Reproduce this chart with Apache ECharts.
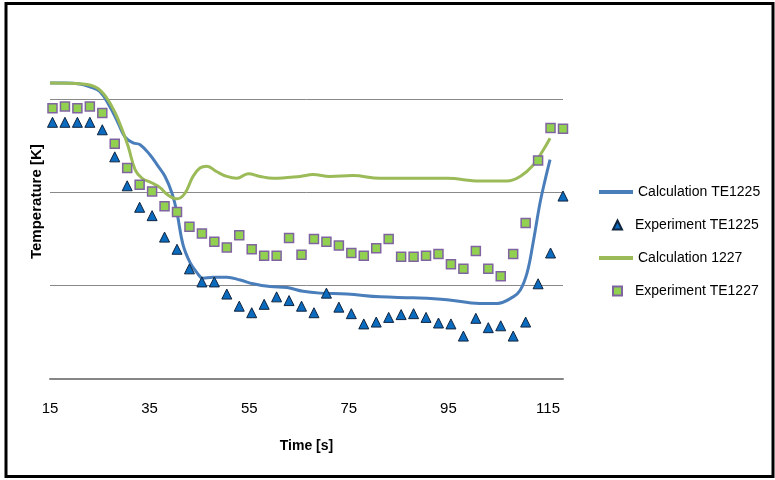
<!DOCTYPE html>
<html>
<head>
<meta charset="utf-8">
<script src="https://cdn.jsdelivr.net/npm/echarts@6/dist/echarts.min.js"></script>
<style>
html,body{margin:0;padding:0;background:#fff;}
#chart{width:775px;height:480px;}
</style>
</head>
<body>
<div id="chart"></div>
<script>
// X tick labels
var xTicks = [15, 35, 55, 75, 95, 115];
// Experiment sample times [s]
var expTime = [15.5, 18, 20.5, 23, 25.5, 28, 30.5, 33, 35.5, 38, 40.5, 43, 45.5, 48, 50.5, 53, 55.5, 58, 60.5, 63, 65.5, 68, 70.5, 73, 75.5, 78, 80.5, 83, 85.5, 88, 90.5, 93, 95.5, 98, 100.5, 103, 105.5, 108, 110.5, 113, 115.5, 118];
// Experiment TE1225 (triangles)
var exp1225 = [27.5, 27.5, 27.5, 27.5, 26.7, 23.8, 20.7, 18.4, 17.5, 15.2, 13.9, 11.8, 10.4, 10.4, 9.1, 7.8, 7.1, 8.0, 8.8, 8.4, 7.8, 7.1, 9.2, 7.7, 7.0, 5.9, 6.1, 6.6, 6.9, 7.0, 6.6, 6.0, 5.9, 4.6, 6.5, 5.5, 5.7, 4.6, 6.1, 10.2, 13.5, 19.6];
// Experiment TE1227 (squares)
var exp1227 = [29.0, 29.2, 29.0, 29.2, 28.5, 25.2, 22.6, 20.8, 20.1, 18.5, 17.9, 16.3, 15.6, 14.7, 14.1, 15.4, 13.9, 13.2, 13.2, 15.1, 13.3, 15.0, 14.7, 14.3, 13.5, 13.2, 14.0, 15.0, 13.1, 13.1, 13.2, 13.4, 12.3, 11.8, 13.7, 11.8, 11.0, 13.4, 16.7, 23.4, 26.9, 26.8];
// Calculation TE1225 (blue line)
var calc1225Time = [15, 18, 21, 23, 25, 27, 28.7, 30.1, 31.7, 33.1, 35.1, 36.7, 38.1, 39.5, 40.5, 41.7, 43.1, 44.5, 45.7, 47.7, 50.5, 53.2, 55.8, 59.2, 62.6, 65.8, 69.2, 74.6, 81.3, 87.9, 94.7, 101.3, 104.8, 108.0, 109.4, 110.8, 112.0, 113.4, 114.4, 115.4];
var calc1225 = [31.7, 31.7, 31.6, 31.3, 30.8, 29.2, 27.4, 25.9, 25.3, 25.1, 24.0, 22.8, 21.7, 19.9, 17.8, 14.4, 12.5, 11.4, 10.8, 10.9, 10.9, 10.6, 10.2, 9.9, 9.8, 9.4, 9.2, 9.1, 8.8, 8.7, 8.5, 8.1, 8.1, 8.8, 9.5, 11.4, 14.6, 18.9, 21.3, 23.5];
// Calculation 1227 (green line)
var calc1227Time = [15, 21.6, 24.4, 26.4, 28.1, 29.5, 30.7, 32.1, 33.5, 35.5, 37.1, 38.7, 40.5, 42.1, 43.7, 45.1, 46.5, 48.5, 50.5, 52.5, 54.8, 57.2, 59.8, 65.2, 67.8, 71.2, 75.8, 81.3, 87.9, 94.7, 101.3, 106.8, 109.4, 112.0, 114.0, 115.4];
var calc1227 = [31.7, 31.6, 31.2, 30.1, 28.5, 26.7, 24.9, 22.4, 21.5, 21.0, 20.5, 19.7, 19.3, 19.9, 21.7, 22.6, 22.8, 22.2, 21.7, 21.5, 22.0, 21.7, 21.5, 21.7, 21.9, 21.7, 21.8, 21.5, 21.5, 21.5, 21.2, 21.2, 21.7, 22.9, 24.5, 25.8];

function zip(a, b) { return a.map(function (v, i) { return [v, b[i]]; }); }

var FONT = "'Liberation Sans', Arial, sans-serif";
var chart = echarts.init(document.getElementById('chart'), null, {renderer: 'canvas'});
chart.setOption({
  animation: false,
  backgroundColor: '#ffffff',
  graphic: [{
    type: 'rect', silent: true, z: 100,
    shape: {x: 6, y: 3.5, width: 767, height: 473},
    style: {fill: 'none', stroke: '#000', lineWidth: 3}
  }],
  grid: {left: 50, right: 212, top: 24.3, bottom: 101},
  legend: [{
    orient: 'vertical', left: 599, top: 184, padding: 0,
    itemWidth: 34, itemHeight: 4, itemGap: 50,
    textStyle: {fontFamily: FONT, fontSize: 14, lineHeight: 16, color: '#000'},
    data: [{name: 'Calculation TE1225', icon: 'rect'}, {name: 'Calculation 1227', icon: 'rect'}]
  }, {
    orient: 'vertical', left: 612, top: 217, padding: 0,
    itemWidth: 9, itemHeight: 9, itemGap: 50,
    textStyle: {fontFamily: FONT, fontSize: 14, lineHeight: 16, color: '#000', padding: [0, 0, 0, 8]},
    data: ['Experiment TE1225', 'Experiment TE1227']
  }],
  xAxis: {
    type: 'value', min: 15, max: 118,
    name: 'Time [s]', nameLocation: 'middle', nameGap: 60,
    nameTextStyle: {fontFamily: FONT, fontSize: 14, fontWeight: 'bold', color: '#000'},
    axisLine: {show: true, lineStyle: {color: '#868686', width: 2}},
    axisTick: {show: false},
    splitLine: {show: false},
    axisLabel: {customValues: xTicks, margin: 22, fontFamily: FONT, fontSize: 15, color: '#000'}
  },
  yAxis: {
    type: 'value', min: 0, max: 38, interval: 10,
    name: 'Temperature [K]', nameLocation: 'middle', nameGap: 6, nameRotate: 90,
    nameTextStyle: {fontFamily: FONT, fontSize: 15, fontWeight: 'bold', color: '#000'},
    axisLine: {show: false}, axisTick: {show: false}, axisLabel: {show: false},
    splitLine: {show: true, showMinLine: false, showMaxLine: false, lineStyle: {color: '#898989', width: 1}}
  },
  series: [
    {
      name: 'Calculation TE1225', type: 'line', data: zip(calc1225Time, calc1225),
      smooth: 0.4, symbol: 'none', lineStyle: {color: '#4A7EBB', width: 3}, itemStyle: {color: '#4A7EBB'}, z: 3
    },
    {
      name: 'Experiment TE1225', type: 'scatter', data: zip(expTime, exp1225),
      symbol: 'triangle', symbolSize: [10, 10],
      itemStyle: {color: '#0B6BBF', borderColor: '#10243E', borderWidth: 1, opacity: 1}, z: 4
    },
    {
      name: 'Calculation 1227', type: 'line', data: zip(calc1227Time, calc1227),
      smooth: 0.4, symbol: 'none', lineStyle: {color: '#9BBB59', width: 3}, itemStyle: {color: '#9BBB59'}, z: 3
    },
    {
      name: 'Experiment TE1227', type: 'scatter', data: zip(expTime, exp1227),
      symbol: 'rect', symbolSize: 9,
      itemStyle: {color: '#92D050', borderColor: '#8064A2', borderWidth: 1.5, opacity: 1}, z: 4
    }
  ]
});
</script>
</body>
</html>
